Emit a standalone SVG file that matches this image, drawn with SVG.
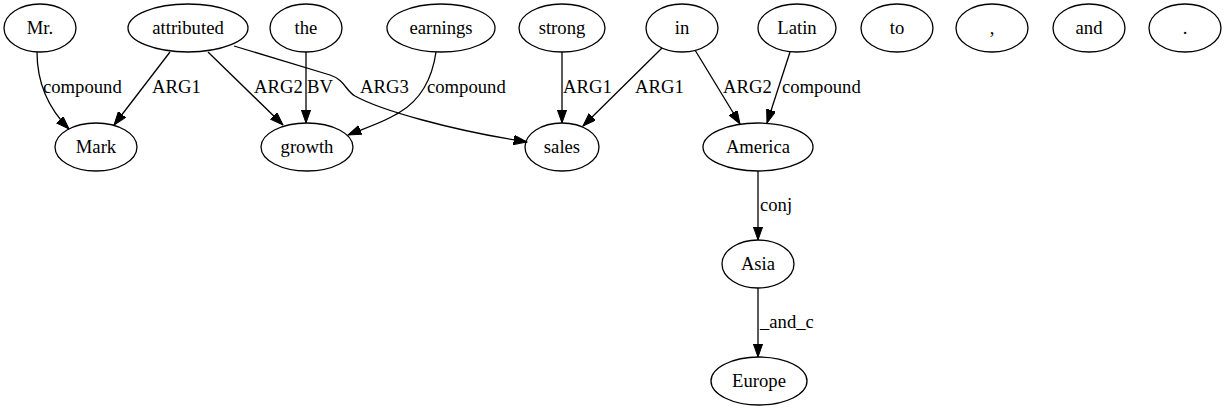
<svg xmlns="http://www.w3.org/2000/svg" width="1227" height="411" viewBox="0 0 1227 411" font-family="'Liberation Serif', 'Times New Roman', Times, serif" font-size="18.67">
<style>
.n ellipse{fill:none;stroke:#000;stroke-width:1.3}
text{font-family:'Liberation Serif','Times New Roman',Times,serif;font-size:18.67px;fill:#000}
.n text{text-anchor:middle}
.e path{fill:none;stroke:#000;stroke-width:1.3;marker-end:url(#ah)}
</style>
<defs>
<marker id="ah" markerUnits="userSpaceOnUse" markerWidth="14" markerHeight="10" refX="13.3" refY="4.7" orient="auto" viewBox="0 0 14 10">
<path d="M0,0 L13.3,4.7 L0,9.4 z" fill="#000" stroke="#000" stroke-width="1"/>
</marker>
</defs>
<rect width="1227" height="411" fill="#fff"/>
<g id="connectors" class="e">
<path d="M37,52 C37,78 44,104 69,129"/>
<path d="M170,52 L114,125"/>
<path d="M208,52 L283,125"/>
<path d="M306,52 L306,123"/>
<path d="M234,46 L330,75 C345,80 345,90 355,96 C380,110 450,130 527,142"/>
<path d="M436,52 C432,80 420,100 400,112 C385,122 365,128 348,135"/>
<path d="M562,52 L562,123"/>
<path d="M662,48 L583,126"/>
<path d="M695,50 L740,124"/>
<path d="M790,52 L767,123"/>
<path d="M758,171 L758,240"/>
<path d="M758,288 L758,357"/>
<text x="43" y="93">compound</text>
<text x="152" y="93">ARG1</text>
<text x="254" y="93">ARG2</text>
<text x="307" y="93">BV</text>
<text x="360" y="93">ARG3</text>
<text x="427" y="93">compound</text>
<text x="563" y="93">ARG1</text>
<text x="635" y="93">ARG1</text>
<text x="723" y="93">ARG2</text>
<text x="782" y="93">compound</text>
<text x="760" y="211">conj</text>
<text x="760" y="328">_and_c</text>
</g>
<g id="n-mr" class="n"><ellipse cx="40" cy="28" rx="36" ry="24"/><text x="40" y="34">Mr.</text></g>
<g id="n-attributed" class="n"><ellipse cx="188" cy="28" rx="60" ry="24"/><text x="188" y="34">attributed</text></g>
<g id="n-the" class="n"><ellipse cx="306" cy="28" rx="36" ry="24"/><text x="306" y="34">the</text></g>
<g id="n-earnings" class="n"><ellipse cx="441" cy="28" rx="54" ry="24"/><text x="441" y="34">earnings</text></g>
<g id="n-strong" class="n"><ellipse cx="562" cy="28" rx="43" ry="24"/><text x="562" y="34">strong</text></g>
<g id="n-in" class="n"><ellipse cx="682" cy="28" rx="36" ry="24"/><text x="682" y="34">in</text></g>
<g id="n-latin" class="n"><ellipse cx="797" cy="28" rx="39" ry="24"/><text x="797" y="34">Latin</text></g>
<g id="n-to" class="n"><ellipse cx="897" cy="28" rx="36" ry="24"/><text x="897" y="34">to</text></g>
<g id="n-comma" class="n"><ellipse cx="992" cy="28" rx="36" ry="24"/><text x="992" y="34">,</text></g>
<g id="n-and" class="n"><ellipse cx="1089" cy="28" rx="36" ry="24"/><text x="1089" y="34">and</text></g>
<g id="n-period" class="n"><ellipse cx="1185" cy="28" rx="36" ry="24"/><text x="1185" y="34">.</text></g>
<g id="n-mark" class="n"><ellipse cx="96" cy="147" rx="41" ry="24"/><text x="96" y="153">Mark</text></g>
<g id="n-growth" class="n"><ellipse cx="307" cy="147" rx="46" ry="24"/><text x="307" y="153">growth</text></g>
<g id="n-sales" class="n"><ellipse cx="562" cy="147" rx="37" ry="24"/><text x="562" y="153">sales</text></g>
<g id="n-america" class="n"><ellipse cx="758" cy="147" rx="55" ry="24"/><text x="758" y="153">America</text></g>
<g id="n-asia" class="n"><ellipse cx="758" cy="264" rx="36" ry="24"/><text x="758" y="270">Asia</text></g>
<g id="n-europe" class="n"><ellipse cx="759" cy="381" rx="48" ry="24"/><text x="759" y="387">Europe</text></g>
</svg>
